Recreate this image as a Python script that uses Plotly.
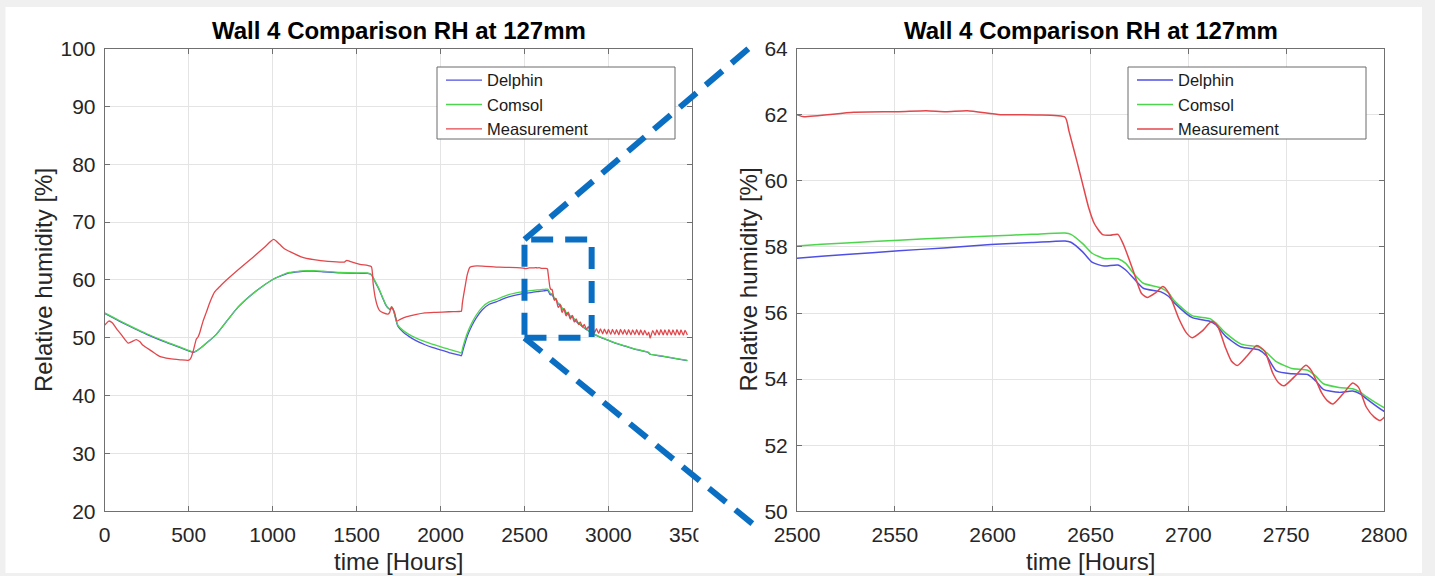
import plotly.graph_objects as go

# ---------------- data ----------------
model_t = [0, 60, 120, 169, 250, 367, 450, 526, 545, 565, 610, 665, 730, 794, 860, 930, 1009,
           1060, 1100, 1155, 1200, 1246, 1300, 1400, 1500, 1565, 1588,
           1610, 1633, 1655, 1677, 1700, 1712, 1725, 1746,
           1780, 1830, 1875, 1907, 1950, 1994, 2050, 2113, 2124, 2133,
           2158, 2185, 2212, 2249, 2290, 2331, 2362, 2411, 2476,
           2500, 2525, 2552, 2575, 2599, 2620, 2637,
           2640, 2646, 2651, 2657, 2664, 2668, 2672, 2677,
           2686, 2690, 2693, 2702, 2711, 2714, 2719, 2727,
           2736, 2740, 2745, 2753, 2761, 2765, 2769, 2777,
           2784, 2788, 2791, 2800,
           2825, 2850, 2875, 2900, 2950, 3000, 3050, 3100, 3150, 3200, 3238, 3248,
           3300, 3350, 3400, 3470]

comsol_rh = [54.3, 53.4, 52.5, 51.8, 50.7, 49.3, 48.4, 47.6, 47.7, 48.1, 49.2, 50.6, 53.0, 55.3, 57.1, 58.7, 60.2,
             60.9, 61.3, 61.5, 61.6, 61.6, 61.5, 61.3, 61.2, 61.2, 60.96,
             59.8, 58.5, 57.0, 55.6, 55.0, 55.3, 54.3, 52.2,
             51.2, 50.3, 49.7, 49.35, 48.9, 48.5, 48.0, 47.5, 47.4, 48.4,
             50.7, 52.5, 53.9, 55.3, 56.2, 56.6, 57.0, 57.5, 57.9,
             58.03, 58.12, 58.2, 58.27, 58.33, 58.38, 58.42,
             58.38, 58.1, 57.8, 57.65, 57.64, 57.5, 57.2, 56.9,
             56.76, 56.6, 56.36, 55.92, 55.83, 55.7, 55.4, 55.06,
             54.97, 54.8, 54.53, 54.32, 54.27, 54.1, 53.86, 53.75,
             53.71, 53.6, 53.47, 53.14,
             52.5, 51.9, 51.35, 50.9, 50.15, 49.6, 49.05, 48.6, 48.15, 47.8, 47.5, 47.2,
             46.95, 46.7, 46.45, 46.1]

delphin_rh = [54.2, 53.3, 52.4, 51.7, 50.6, 49.2, 48.3, 47.5, 47.7, 48.1, 49.2, 50.6, 53.0, 55.3, 57.1, 58.7, 60.2,
              60.82, 61.22, 61.42, 61.52, 61.52, 61.42, 61.22, 61.12, 61.12, 60.9,
              59.7, 58.4, 56.9, 55.5, 54.9, 55.2, 54.2, 52.0,
              50.9, 49.9, 49.2, 48.8, 48.35, 47.95, 47.45, 47.0, 46.9, 47.8,
              50.2, 52.0, 53.4, 54.85, 55.8, 56.2, 56.6, 57.1, 57.55,
              57.66, 57.77, 57.88, 57.97, 58.07, 58.13, 58.18,
              58.14, 57.85, 57.53, 57.42, 57.45, 57.3, 57.05, 56.75,
              56.64, 56.5, 56.3, 55.86, 55.75, 55.65, 55.3, 54.97,
              54.89, 54.7, 54.25, 54.16, 54.14, 53.95, 53.69, 53.6,
              53.64, 53.55, 53.41, 53.03,
              52.42, 51.84, 51.3, 50.85, 50.1, 49.55, 49.0, 48.55, 48.1, 47.75, 47.45, 47.15,
              46.9, 46.65, 46.4, 46.05]

meas_t = [0, 25, 45, 70, 100, 139, 159, 188, 210, 228, 280, 327, 387, 450, 496, 505, 516, 530, 546, 555,
          565, 585, 605, 630, 654, 690, 722, 800, 882, 950, 1006, 1040, 1070, 1109, 1170, 1246, 1330,
          1428, 1442, 1460, 1520, 1565, 1588, 1599, 1612, 1625, 1637, 1660, 1687, 1697, 1707, 1716,
          1726, 1740, 1760, 1795, 1850, 1907, 1974, 2050, 2113, 2124, 2130, 2146, 2160, 2175, 2200,
          2249, 2350, 2476,
          2500, 2503, 2529, 2552, 2566, 2576, 2587, 2604, 2622, 2637, 2639, 2643, 2646, 2649, 2652,
          2656, 2660, 2664, 2667, 2672, 2676, 2679, 2683, 2687, 2690, 2695, 2699, 2702, 2707, 2712,
          2715, 2719, 2722, 2725, 2730, 2735, 2739, 2743, 2746, 2749, 2755, 2760, 2763, 2768, 2771,
          2774, 2779, 2784, 2787, 2791, 2795, 2798,
          2808, 2822, 2832, 2846, 2856, 2870, 2880, 2894, 2904, 2918, 2928, 2942, 2952, 2966,
          2976, 2990, 3000, 3014, 3024, 3038, 3048, 3062, 3072, 3086, 3096, 3110, 3120, 3134,
          3144, 3158, 3168, 3182, 3192, 3206, 3216, 3230, 3240, 3248, 3264, 3278, 3288, 3302,
          3312, 3326, 3336, 3350, 3360, 3374, 3384, 3398, 3408, 3422, 3432, 3446, 3456, 3470]

meas_rh = [52.2, 52.9, 52.6, 51.6, 50.5, 49.1, 49.3, 49.7, 49.3, 48.7, 47.7, 46.8, 46.4, 46.2, 46.1, 46.2, 46.7, 48.0, 49.8, 50.1,
           50.8, 52.8, 54.4, 56.4, 57.9, 59.0, 59.9, 61.9, 63.9, 65.6, 67.0, 66.2, 65.4, 64.8, 64.0, 63.5, 63.2,
           63.1, 63.4, 63.2, 62.7, 62.5, 62.3, 59.3, 56.8, 55.4, 54.7, 54.3, 54.1, 54.4, 55.4, 55.0,
           54.4, 52.9, 53.2, 53.6, 54.0, 54.3, 54.4, 54.5, 54.55, 54.6, 56.0, 58.8, 61.0, 62.2, 62.4,
           62.4, 62.2, 62.1,
           62.0, 61.94, 62.07, 62.09, 62.12, 62.09, 62.12, 62.0, 61.99, 61.92, 61.5, 60.6, 59.9, 59.2, 58.7,
           58.38, 58.35, 58.38, 58.05, 57.25, 56.6, 56.47, 56.6, 56.8, 56.6, 55.85, 55.4, 55.25, 55.45, 55.75,
           55.6, 54.95, 54.55, 54.41, 54.7, 55.02, 54.85, 54.2, 53.9, 53.8, 54.12, 54.42, 54.25, 53.6, 53.35,
           53.25, 53.55, 53.88, 53.75, 53.15, 52.85, 52.75,
           53.25, 52.3, 52.75, 51.85, 52.3, 51.45, 51.95, 51.1, 51.75, 50.9, 51.6, 50.75, 51.55, 50.7,
           51.5, 50.65, 51.45, 50.6, 51.45, 50.6, 51.4, 50.55, 51.45, 50.6, 51.4, 50.55, 51.4, 50.55,
           51.35, 50.55, 51.4, 50.5, 51.35, 50.5, 51.3, 50.45, 51.0, 49.95, 51.25, 50.45, 51.35, 50.5,
           51.4, 50.5, 51.35, 50.45, 51.4, 50.5, 51.35, 50.45, 51.4, 50.5, 51.35, 50.45, 51.3, 50.5]

series_names = ["Delphin", "Comsol", "Measurement"]
series_colors = ["#4f4fe6", "#4cd64c", "#e2474c"]

title_text = "Wall 4 Comparison RH at 127mm"
x_title = "time [Hours]"
y_title = "Relative humidity [%]"

left_xrange, left_yrange = [0, 3500], [20, 100]
right_xrange, right_yrange = [2500, 2800], [50, 64]
zoom_box = dict(x0=2500, x1=2900, y0=50, y1=67)

# ---------------- layout geometry (pixels of the 1435x576 page) ----------------
W, H = 1435, 576
FONT = "Liberation Sans, Arial, Helvetica, sans-serif"


def pxx(p):
    return p / W


def pxy(p):
    return 1 - p / H


left_dom = [pxx(104.7), pxx(692.4)]
right_dom = [pxx(797), pxx(1384)]
y_dom = [pxy(511.4), pxy(48.5)]

fig = go.Figure()

series = [(model_t, delphin_rh), (model_t, comsol_rh), (meas_t, meas_rh)]
for (xa, ya, leg, lw) in [("x", "y", "legend", 1.3), ("x2", "y2", "legend2", 1.5)]:
    for (t, v), name, col in zip(series, series_names, series_colors):
        fig.add_trace(go.Scatter(
            x=t, y=v, mode="lines", name=name, xaxis=xa, yaxis=ya, legend=leg,
            line=dict(color=col, width=lw, shape="spline", smoothing=0.6),
            hoverinfo="skip"))

axis_common = dict(
    showline=True, linecolor="#707070", linewidth=1, mirror="ticks",
    ticks="inside", ticklen=5, tickcolor="#707070", tickwidth=1,
    showgrid=True, gridcolor="#e4e4e4", gridwidth=1, zeroline=False,
    tickfont=dict(family=FONT, size=21, color="#262626"),
)

legend_common = dict(xanchor="left", yanchor="top", bgcolor="rgba(0,0,0,0)", borderwidth=0,
                     itemwidth=36, font=dict(family=FONT, size=16.5, color="#1a1a1a"))

fig.update_layout(
    width=W, height=H,
    margin=dict(l=0, r=0, t=0, b=0, autoexpand=False),
    paper_bgcolor="#f0f0f0", plot_bgcolor="white",
    xaxis=dict(domain=left_dom, range=left_xrange, dtick=500, tick0=0, anchor="y",
               ticklabelstandoff=4, **axis_common),
    yaxis=dict(domain=y_dom, range=left_yrange, dtick=10, tick0=0, anchor="x",
               ticklabelstandoff=4, **axis_common),
    xaxis2=dict(domain=right_dom, range=right_xrange, dtick=50, tick0=0, anchor="y2",
                ticklabelstandoff=4, **axis_common),
    yaxis2=dict(domain=y_dom, range=right_yrange, dtick=2, tick0=0, anchor="x2",
                ticklabelstandoff=4, **axis_common),
    showlegend=True,
    legend=dict(x=pxx(441), y=pxy(62.8), **legend_common),
    legend2=dict(x=pxx(1132), y=pxy(62.8), **legend_common),
)

annotations = []
for dom in (left_dom, right_dom):
    cx = (dom[0] + dom[1]) / 2
    annotations.append(dict(text="<b>" + title_text + "</b>", x=cx, y=pxy(31), xref="paper", yref="paper",
                            xanchor="center", yanchor="middle", showarrow=False,
                            font=dict(family=FONT, size=24, color="#000000")))
    annotations.append(dict(text=x_title, x=cx, y=pxy(561), xref="paper", yref="paper",
                            xanchor="center", yanchor="middle", showarrow=False,
                            font=dict(family=FONT, size=24, color="#262626")))
for xc in (pxx(43), pxx(747.5)):
    annotations.append(dict(text=y_title, x=xc, y=pxy(280), xref="paper", yref="paper",
                            xanchor="center", yanchor="middle", showarrow=False, textangle=-90,
                            font=dict(family=FONT, size=24, color="#262626")))
fig.update_layout(annotations=annotations)


def data_to_paper(x, y):
    fx = left_dom[0] + (x - left_xrange[0]) / (left_xrange[1] - left_xrange[0]) * (left_dom[1] - left_dom[0])
    fy = y_dom[0] + (y - left_yrange[0]) / (left_yrange[1] - left_yrange[0]) * (y_dom[1] - y_dom[0])
    return fx, fy


BLUE = "#0a6fc2"
DASH = "22px,12px"
shapes = [
    # white page area inside the grey border
    dict(type="rect", xref="paper", yref="paper", x0=pxx(5.5), x1=pxx(1422), y0=pxy(573), y1=pxy(7),
         fillcolor="white", line=dict(width=0), layer="below"),
    # legend frames
    dict(type="rect", xref="paper", yref="paper", x0=pxx(437), x1=pxx(675), y0=pxy(139), y1=pxy(67),
         fillcolor="white", line=dict(color="#6a6a6a", width=1), layer="above"),
    dict(type="rect", xref="paper", yref="paper", x0=pxx(1128), x1=pxx(1366), y0=pxy(139), y1=pxy(67),
         fillcolor="white", line=dict(color="#6a6a6a", width=1), layer="above"),
    # cut-off strip of the screenshot
    dict(type="rect", xref="paper", yref="paper", x0=pxx(698.5), x1=pxx(752), y0=pxy(573), y1=pxy(385),
         fillcolor="white", line=dict(width=0), layer="above"),
    # zoom box
    dict(type="rect", xref="x", yref="y", layer="above", fillcolor="rgba(0,0,0,0)",
         line=dict(color=BLUE, width=6, dash=DASH), **zoom_box),
]
tx, ty = data_to_paper(zoom_box["x0"], zoom_box["y1"])
bx, by = data_to_paper(zoom_box["x0"], zoom_box["y0"])
shapes.append(dict(type="line", xref="paper", yref="paper", x0=tx, y0=ty, x1=pxx(754), y1=pxy(44),
                   line=dict(color=BLUE, width=6, dash=DASH), layer="above"))
shapes.append(dict(type="line", xref="paper", yref="paper", x0=bx, y0=by, x1=pxx(754), y1=pxy(525),
                   line=dict(color=BLUE, width=6, dash=DASH), layer="above"))
fig.update_layout(shapes=shapes)

# remove the browser's default 8px body margin so the figure fills the window exactly
fig.write_html("out.html", config={"displayModeBar": False},
               post_script="document.body.style.margin='0';document.body.style.overflow='hidden';")
